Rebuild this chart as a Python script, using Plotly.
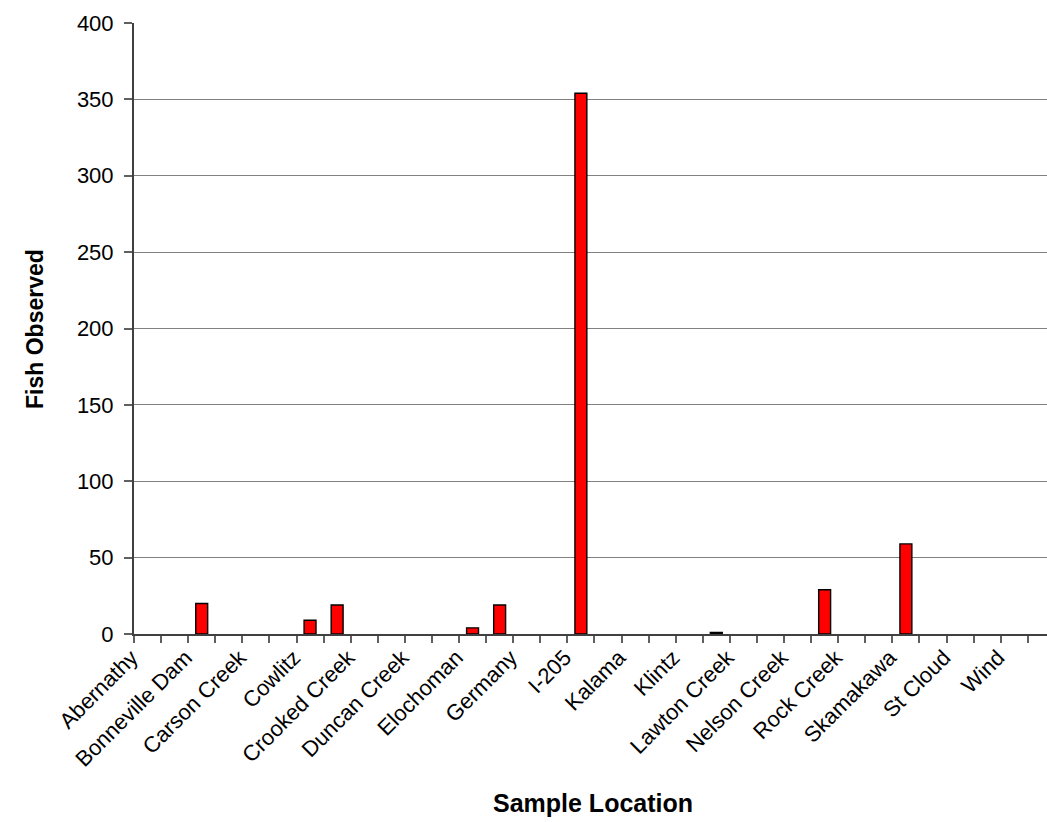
import plotly.graph_objects as go

# Sampling sites; each site label covers the first of two sample slots.
sites = [
    "Abernathy", "Bonneville Dam", "Carson Creek", "Cowlitz", "Crooked Creek",
    "Duncan Creek", "Elochoman", "Germany", "I-205", "Kalama", "Klintz",
    "Lawton Creek", "Nelson Creek", "Rock Creek", "Skamakawa", "St Cloud", "Wind",
]

# Fish observed per sample slot (two slots per site, in site order).
fish_observed = [
    0, 0,     # Abernathy
    20, 0,    # Bonneville Dam
    0, 0,     # Carson Creek
    9, 19,    # Cowlitz
    0, 0,     # Crooked Creek
    0, 0,     # Duncan Creek
    4, 19,    # Elochoman
    0, 0,     # Germany
    354, 0,   # I-205
    0, 0,     # Kalama
    0, 1,     # Klintz
    0, 0,     # Lawton Creek
    0, 29,    # Nelson Creek
    0, 0,     # Rock Creek
    59, 0,    # Skamakawa
    0, 0,     # St Cloud
    0, 0,     # Wind
]

y_ticks = [0, 50, 100, 150, 200, 250, 300, 350, 400]

slots = list(range(len(fish_observed)))
label_slots = slots[::2]
boundaries = [s - 0.5 for s in slots] + [slots[-1] + 0.5]
# empty slots get no outline so nothing is drawn for them
outline_widths = [1.4 if v > 0 else 0 for v in fish_observed]

FONT = "Liberation Sans, Arial, sans-serif"
AXIS_COLOR = "#404040"

fig = go.Figure(
    go.Bar(
        x=slots,
        y=fish_observed,
        marker=dict(color="#FF0000", line=dict(color="#000000", width=outline_widths)),
        hoverinfo="x+y",
    )
)

fig.update_layout(
    width=1047,
    height=822,
    margin=dict(l=134, r=0, t=23, b=188),
    paper_bgcolor="white",
    plot_bgcolor="white",
    bargap=0.56,
    showlegend=False,
    font=dict(family=FONT, color="#000000"),
    annotations=[
        dict(
            text="<b>Fish Observed</b>",
            xref="paper", yref="paper",
            x=-0.109, y=0.5,
            xanchor="center", yanchor="middle",
            textangle=-90, showarrow=False,
            font=dict(family=FONT, size=23, color="#000000"),
        ),
        dict(
            text="<b>Sample Location</b>",
            xref="paper", yref="paper",
            x=0.503, y=-0.276,
            xanchor="center", yanchor="middle",
            showarrow=False,
            font=dict(family=FONT, size=25, color="#000000"),
        ),
    ],
)

fig.update_xaxes(
    range=[-0.5, 33.21],
    tickmode="array",
    tickvals=label_slots,
    ticktext=sites,
    tickangle=-45,
    ticks="",
    ticklabelstandoff=0,
    ticklabelshift=-16,
    tickfont=dict(family=FONT, size=22, color="#000000"),
    showgrid=False,
    zeroline=False,
    showline=True,
    linecolor=AXIS_COLOR,
    linewidth=2,
    minor=dict(
        tickmode="array",
        tickvals=boundaries,
        ticks="outside",
        ticklen=7,
        tickwidth=2,
        tickcolor="#606060",
        showgrid=False,
    ),
)

fig.update_yaxes(
    range=[0, 400],
    tickmode="array",
    tickvals=y_ticks,
    ticks="outside",
    ticklen=8,
    tickwidth=2,
    tickcolor="#606060",
    ticklabelstandoff=6,
    tickfont=dict(family=FONT, size=22, color="#000000"),
    showgrid=True,
    gridcolor="#808080",
    gridwidth=1.3,
    zeroline=False,
    showline=True,
    linecolor=AXIS_COLOR,
    linewidth=2,
)

fig.write_html("out.html")
